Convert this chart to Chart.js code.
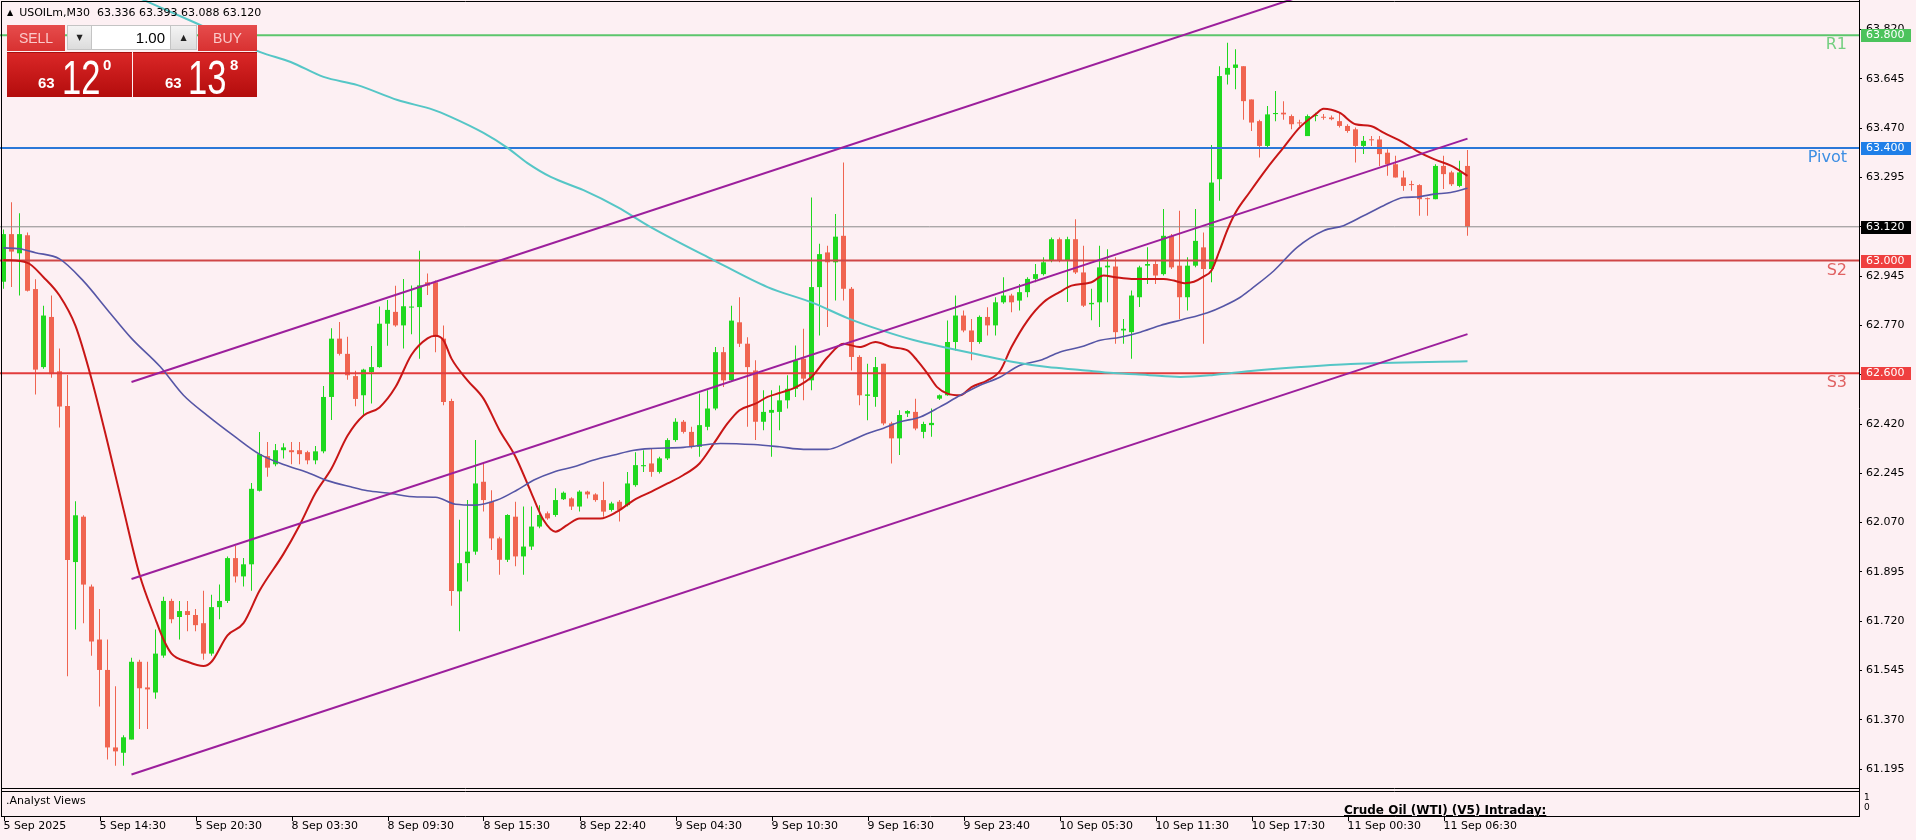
<!DOCTYPE html>
<html>
<head>
<meta charset="utf-8">
<title>USOILm M30</title>
<script src="https://cdn.jsdelivr.net/npm/chart.js@4.4.1/dist/chart.umd.min.js"></script>
<style>
  html, body { margin: 0; padding: 0; background: #fdf0f3; overflow: hidden; }
  #wrap { position: relative; width: 1916px; height: 840px; font-family: "DejaVu Sans", sans-serif; }
  #chart { position: absolute; left: 0; top: 0; }
  #sym { position: absolute; left: 7px; top: 6px; font-size: 11px; line-height: 13px; color: #000; white-space: pre; }
  #sym .tri { font-size: 8px; vertical-align: 1px; margin-right: 6px; }
  .pbtn { position: absolute; top: 25px; height: 26px; background: linear-gradient(#e64c4c, #d83131); color: #fbcaca;
          font: 14px "Liberation Sans", sans-serif; line-height: 26px; text-align: center; }
  #sellBtn { left: 7px; width: 58px; }
  #buyBtn { left: 198px; width: 59px; }
  .arrow { position: absolute; top: 25px; height: 25px; background: linear-gradient(#f4f4f4, #dcdcdc); border: 1px solid #c4c4c4;
           box-sizing: border-box; font-size: 8px; line-height: 23px; text-align: center; color: #222; }
  #dn { left: 67px; width: 25px; }
  #up { left: 170px; width: 27px; }
  #lot { position: absolute; left: 92px; top: 25px; width: 78px; height: 25px; background: #fff; border-top: 1px solid #c4c4c4;
         border-bottom: 1px solid #c4c4c4; box-sizing: border-box; text-align: right; padding-right: 5px;
         font: 15px "Liberation Sans", sans-serif; line-height: 23px; color: #000; }
  .quote { position: absolute; top: 52px; height: 45px; background: linear-gradient(#da2727, #b30c0c); color: #fff;
           border-top: 1px solid #a80f0f; box-sizing: border-box; }
  #qSell { left: 7px; width: 125px; }
  #qBuy { left: 133px; width: 124px; }
  .quote span { position: absolute; white-space: nowrap; }
  .quote .pre { top: 22px; font: bold 15px "Liberation Sans", sans-serif; line-height: 15px; }
  .quote .big { top: 1px; font: 48px "Liberation Sans", sans-serif; line-height: 48px; transform: scaleX(0.72); transform-origin: 0 0; }
  .quote .sup { top: 4px; font: bold 15px "Liberation Sans", sans-serif; line-height: 15px; }
  #sub { position: absolute; left: 2px; top: 792px; width: 1857px; height: 24px; overflow: hidden; font-size: 11px; color: #000; }
  #sub .name { position: absolute; left: 4px; top: 2px; line-height: 13px; }
  #sub .title { position: absolute; left: 1342px; top: 11px; font-weight: bold; font-size: 12px; text-decoration: underline;
                line-height: 14px; white-space: nowrap; }
  .subtick { position: absolute; left: 1864px; font-size: 9px; line-height: 9px; color: #000; }
</style>
</head>
<body>
<div id="wrap">
  <canvas id="chart" width="1916" height="840"></canvas>
  <div id="sym"><span class="tri">▲</span><span id="symText"></span></div>
  <div class="pbtn" id="sellBtn">SELL</div>
  <div class="arrow" id="dn">▼</div>
  <div id="lot">1.00</div>
  <div class="arrow" id="up">▲</div>
  <div class="pbtn" id="buyBtn">BUY</div>
  <div class="quote" id="qSell"><span class="pre" style="left:31px"></span><span class="big" style="left:55px"></span><span class="sup" style="left:96px"></span></div>
  <div class="quote" id="qBuy"><span class="pre" style="left:32px"></span><span class="big" style="left:55px"></span><span class="sup" style="left:97px"></span></div>
  <div id="sub">
    <div class="name">.Analyst Views</div>
    <div class="title">Crude Oil (WTI) (V5) Intraday:</div>
  </div>
  <div class="subtick" style="top:793px">1</div>
  <div class="subtick" style="top:803px">0</div>
</div>
<script>
// M30 bars, index 0 = 5 Sep morning, last = 11 Sep 08:00
const opens = [
  62.925, 63.094, 63.026, 63.090, 62.899, 62.622, 62.800, 62.607, 62.484, 61.930,
  62.091, 61.843, 61.655, 61.547, 61.272, 61.253, 61.300, 61.576, 61.485, 61.467,
  61.598, 61.792, 61.735, 61.756, 61.742, 61.713, 61.605, 61.770, 61.792, 61.944,
  61.879, 61.922, 62.183, 62.306, 62.277, 62.327, 62.327, 62.327, 62.320, 62.291,
  62.323, 62.516, 62.723, 62.669, 62.590, 62.522, 62.604, 62.622, 62.776, 62.818,
  62.770, 62.833, 62.835, 62.923, 62.923, 62.723, 62.502, 61.826, 61.926, 61.967,
  62.215, 62.144, 62.014, 61.938, 62.091, 61.950, 61.985, 62.056, 62.103, 62.097,
  62.153, 62.156, 62.127, 62.180, 62.170, 62.150, 62.115, 62.144, 62.132, 62.203,
  62.270, 62.280, 62.250, 62.298, 62.363, 62.428, 62.392, 62.339, 62.410, 62.475,
  62.675, 62.575, 62.781, 62.705, 62.610, 62.428, 62.460, 62.463, 62.504, 62.545,
  62.652, 62.575, 62.906, 63.029, 62.994, 63.088, 62.900, 62.658, 62.520, 62.516,
  62.634, 62.422, 62.369, 62.457, 62.463, 62.392, 62.416, 62.510, 62.522, 62.711,
  62.805, 62.752, 62.711, 62.800, 62.770, 62.852, 62.876, 62.858, 62.888, 62.935,
  62.952, 62.999, 63.076, 62.999, 63.076, 62.958, 62.845, 62.852, 62.976, 62.979,
  62.752, 62.746, 62.870, 62.982, 62.988, 62.952, 63.088, 62.982, 62.870, 62.982,
  63.047, 62.970, 63.289, 63.660, 63.684, 63.690, 63.572, 63.495, 63.407, 63.520,
  63.525, 63.513, 63.490, 63.442, 63.513, 63.510, 63.508, 63.495, 63.478, 63.466,
  63.407, 63.430, 63.430, 63.383, 63.342, 63.295, 63.270, 63.268, 63.220, 63.218,
  63.336, 63.313, 63.265, 63.336
];
const highs = [
  63.110, 63.207, 63.168, 63.100, 62.934, 62.840, 62.876, 62.688, 62.594, 62.146,
  62.096, 61.850, 61.763, 61.655, 61.489, 61.315, 61.590, 61.583, 61.576, 61.691,
  61.807, 61.800, 61.792, 61.792, 61.763, 61.828, 61.814, 61.850, 61.950, 61.987,
  61.944, 62.211, 62.392, 62.356, 62.349, 62.352, 62.356, 62.356, 62.325, 62.342,
  62.555, 62.760, 62.782, 62.730, 62.609, 62.616, 62.697, 62.837, 62.860, 62.911,
  62.935, 62.912, 63.035, 62.954, 62.929, 62.770, 62.510, 62.080, 62.150, 62.363,
  62.280, 62.185, 62.020, 62.100, 62.144, 62.127, 62.127, 62.132, 62.109, 62.192,
  62.180, 62.160, 62.185, 62.183, 62.174, 62.215, 62.144, 62.150, 62.250, 62.320,
  62.327, 62.333, 62.304, 62.369, 62.440, 62.434, 62.410, 62.528, 62.540, 62.693,
  62.693, 62.840, 62.870, 62.728, 62.646, 62.540, 62.540, 62.557, 62.593, 62.699,
  62.758, 63.224, 63.060, 63.053, 63.165, 63.348, 62.906, 62.664, 62.634, 62.658,
  62.634, 62.428, 62.469, 62.469, 62.510, 62.428, 62.475, 62.525, 62.787, 62.876,
  62.823, 62.793, 62.805, 62.834, 62.870, 62.941, 62.882, 62.917, 62.941, 62.988,
  63.012, 63.082, 63.082, 63.085, 63.147, 63.053, 62.900, 63.053, 63.040, 63.012,
  62.793, 62.894, 62.982, 63.047, 62.999, 63.183, 63.094, 63.177, 63.012, 63.183,
  63.100, 63.410, 63.690, 63.773, 63.750, 63.690, 63.572, 63.500, 63.549, 63.602,
  63.566, 63.519, 63.500, 63.519, 63.525, 63.520, 63.515, 63.525, 63.484, 63.472,
  63.442, 63.442, 63.442, 63.395, 63.372, 63.319, 63.283, 63.271, 63.224, 63.342,
  63.372, 63.319, 63.354, 63.393
];
const lows = [
  62.900, 62.906, 62.876, 62.890, 62.525, 62.616, 62.584, 62.408, 61.525, 61.691,
  61.713, 61.597, 61.417, 61.229, 61.207, 61.207, 61.300, 61.337, 61.337, 61.445,
  61.590, 61.713, 61.655, 61.684, 61.684, 61.583, 61.597, 61.727, 61.785, 61.857,
  61.843, 61.828, 62.180, 62.233, 62.270, 62.298, 62.277, 62.277, 62.277, 62.277,
  62.316, 62.434, 62.663, 62.577, 62.483, 62.447, 62.493, 62.620, 62.698, 62.765,
  62.688, 62.739, 62.652, 62.878, 62.675, 62.487, 61.775, 61.684, 61.861, 61.956,
  62.109, 61.973, 61.885, 61.930, 61.915, 61.885, 61.973, 62.050, 62.080, 62.091,
  62.150, 62.115, 62.109, 62.156, 62.144, 62.091, 62.109, 62.074, 62.127, 62.197,
  62.250, 62.233, 62.244, 62.292, 62.357, 62.386, 62.333, 62.304, 62.398, 62.469,
  62.551, 62.569, 62.693, 62.410, 62.363, 62.398, 62.304, 62.398, 62.475, 62.516,
  62.504, 62.540, 62.734, 62.764, 62.858, 62.858, 62.610, 62.487, 62.433, 62.481,
  62.416, 62.280, 62.310, 62.445, 62.398, 62.369, 62.375, 62.505, 62.520, 62.681,
  62.746, 62.646, 62.705, 62.734, 62.734, 62.847, 62.817, 62.823, 62.870, 62.923,
  62.947, 62.994, 62.994, 62.853, 62.952, 62.835, 62.788, 62.764, 62.852, 62.705,
  62.705, 62.652, 62.835, 62.917, 62.917, 62.947, 62.970, 62.793, 62.823, 62.976,
  62.705, 62.923, 63.212, 63.625, 63.608, 63.500, 63.460, 63.366, 63.400, 63.495,
  63.500, 63.466, 63.478, 63.442, 63.495, 63.500, 63.498, 63.472, 63.454, 63.348,
  63.378, 63.407, 63.336, 63.301, 63.295, 63.248, 63.248, 63.159, 63.159, 63.218,
  63.254, 63.265, 63.260, 63.088
];
const closes = [
  63.094, 63.032, 63.094, 62.893, 62.613, 62.805, 62.597, 62.482, 61.937, 62.096,
  61.850, 61.648, 61.547, 61.272, 61.258, 61.308, 61.576, 61.482, 61.478, 61.605,
  61.792, 61.727, 61.756, 61.742, 61.706, 61.605, 61.770, 61.792, 61.944, 61.879,
  61.922, 62.190, 62.313, 62.265, 62.327, 62.337, 62.320, 62.313, 62.291, 62.323,
  62.516, 62.723, 62.669, 62.593, 62.509, 62.613, 62.622, 62.776, 62.825, 62.770,
  62.838, 62.837, 62.912, 62.911, 62.729, 62.498, 61.827, 61.926, 61.967, 62.209,
  62.150, 62.014, 61.938, 62.097, 61.950, 61.985, 62.056, 62.097, 62.085, 62.150,
  62.176, 62.127, 62.180, 62.170, 62.150, 62.109, 62.138, 62.115, 62.209, 62.274,
  62.274, 62.250, 62.298, 62.363, 62.428, 62.392, 62.339, 62.416, 62.475, 62.675,
  62.575, 62.787, 62.705, 62.622, 62.428, 62.463, 62.470, 62.504, 62.545, 62.646,
  62.581, 62.906, 63.023, 62.994, 63.085, 62.900, 62.658, 62.522, 62.525, 62.622,
  62.422, 62.369, 62.452, 62.466, 62.404, 62.420, 62.424, 62.522, 62.711, 62.805,
  62.752, 62.711, 62.800, 62.770, 62.852, 62.876, 62.852, 62.888, 62.935, 62.952,
  62.994, 63.076, 62.999, 63.076, 62.958, 62.840, 62.850, 62.976, 62.982, 62.746,
  62.758, 62.876, 62.976, 62.988, 62.947, 63.088, 62.976, 62.870, 62.982, 63.070,
  62.970, 63.277, 63.655, 63.684, 63.696, 63.566, 63.490, 63.407, 63.519, 63.524,
  63.519, 63.484, 63.487, 63.513, 63.516, 63.507, 63.502, 63.478, 63.460, 63.407,
  63.425, 63.427, 63.378, 63.342, 63.295, 63.265, 63.268, 63.218, 63.218, 63.336,
  63.307, 63.271, 63.313, 63.120
];

const timeLabels = ['5 Sep 2025', '5 Sep 14:30', '5 Sep 20:30', '8 Sep 03:30', '8 Sep 09:30', '8 Sep 15:30',
  '8 Sep 22:40', '9 Sep 04:30', '9 Sep 10:30', '9 Sep 16:30', '9 Sep 23:40', '10 Sep 05:30',
  '10 Sep 11:30', '10 Sep 17:30', '11 Sep 00:30', '11 Sep 06:30'];
const timeLabelBars = [0, 12, 24, 36, 48, 60, 72, 84, 96, 108, 120, 132, 144, 156, 168, 180];
const priceTicks = [63.820, 63.645, 63.470, 63.295, 63.120, 62.945, 62.770, 62.595,
  62.420, 62.245, 62.070, 61.895, 61.720, 61.545, 61.370, 61.195];

// fast MA (red)
const redMaBars = [0, 3, 5, 7, 9, 11, 13, 15, 17, 19, 20, 21, 23, 25, 26, 28, 30, 32, 35, 37, 39, 41, 43, 45, 47,
  49, 51, 53, 54, 55, 56, 58, 60, 62, 64, 66, 67.5, 69, 70.5, 72, 74.6, 76.7, 78.8, 81, 83, 85, 87, 88.8, 90.5,
  92, 94, 95.5, 97, 99, 101, 103, 105, 107, 109, 111, 113, 114.2, 115.5, 116.7, 118, 119.6, 121, 123, 124.6, 126,
  128, 130, 132, 133.5, 136, 137.5, 139, 141, 143, 145, 146.3, 147.6, 148.8, 150, 151, 152, 153, 154, 155.7, 158,
  160, 162, 164, 165, 167, 169, 170.9, 172.5, 175, 176.7, 178.8, 181, 183];
const redMaValues = [63.002, 62.992, 62.941, 62.876, 62.768, 62.580, 62.355, 62.117, 61.886, 61.727, 61.655, 61.605,
  61.576, 61.561, 61.576, 61.670, 61.713, 61.828, 61.959, 62.060, 62.175, 62.262, 62.378, 62.450, 62.479,
  62.551, 62.666, 62.724, 62.733, 62.717, 62.652, 62.575, 62.510, 62.398, 62.304, 62.174, 62.079, 62.038, 62.062,
  62.085, 62.085, 62.109, 62.150, 62.180, 62.209, 62.239, 62.280, 62.351, 62.422,
  62.469, 62.492, 62.516, 62.530, 62.550, 62.587, 62.657, 62.705, 62.693, 62.711, 62.693, 62.681, 62.646, 62.599,
  62.551, 62.528, 62.522, 62.551, 62.575, 62.610, 62.693,
  62.787, 62.852, 62.888, 62.911, 62.923, 62.947, 62.941, 62.935, 62.935, 62.935, 62.929, 62.920, 62.925, 62.943,
  62.965, 63.035, 63.110, 63.170, 63.240, 63.330,
  63.401, 63.472, 63.519, 63.539, 63.525, 63.484, 63.478, 63.454, 63.419, 63.389, 63.360, 63.336, 63.301];

// medium MA (slate blue)
const blueMaBars = [0, 2, 4, 7, 10, 13, 16, 19.6, 22.5, 25.5, 28.8, 32, 35, 38, 40.5, 43.4, 45.5, 48, 51.7, 54,
  56.5, 59, 61.7, 64.2, 66.3, 68.8, 71.3, 73.8, 76.3, 78.8, 81, 85, 89.6, 93.8, 97, 100, 103, 105.5, 108, 110,
  112, 114.6, 117, 119.6, 122, 124.6, 127, 129.6, 132, 134.6, 137.1, 139.6, 142.1, 144.6, 147.3, 150.5, 152.6,
  154.6, 156, 158.8, 161.7, 165, 167.5, 170, 172.5, 175, 176.7, 178.8, 180.9, 183];
const blueMaValues = [63.045, 63.042, 63.028, 63.006, 62.927, 62.825, 62.724, 62.623, 62.522, 62.450,
  62.378, 62.313, 62.276, 62.248, 62.219, 62.197, 62.183, 62.175, 62.161, 62.160,
  62.135, 62.132, 62.150, 62.186, 62.221, 62.250, 62.268, 62.292, 62.310, 62.327,
  62.333, 62.337, 62.351, 62.347, 62.339, 62.330, 62.330, 62.355, 62.386, 62.405,
  62.427, 62.445, 62.480, 62.522, 62.557, 62.587, 62.628, 62.646, 62.675, 62.693,
  62.717, 62.728, 62.746, 62.770, 62.790, 62.815, 62.840, 62.870, 62.900, 62.964,
  63.047, 63.106, 63.124, 63.159, 63.195, 63.224, 63.226, 63.236, 63.242, 63.257];

// slow MA (cyan)
const cyanMaBars = [16, 18.4, 23.75, 32.1, 35.9, 40, 44.25, 49.25, 53.75, 55.9, 60, 63, 65.5, 68.4, 72.5,
  76.75, 80.9, 88.75, 95.5, 101.25, 105.5, 109.6, 113.75, 118, 122.1, 126.25, 130.5, 134.6, 138.75, 143,
  147.1, 151.25, 155.9, 162.1, 168.4, 183];
const cyanMaValues = [63.944, 63.914, 63.847, 63.740, 63.705, 63.652, 63.623, 63.570, 63.535, 63.510,
  63.453, 63.400, 63.346, 63.297, 63.250, 63.190, 63.119, 63.002, 62.906, 62.849,
  62.796, 62.754, 62.718, 62.690, 62.665, 62.640, 62.622, 62.612, 62.601, 62.594,
  62.587, 62.594, 62.608, 62.622, 62.633, 62.643];

// equidistant channel
const channelBars = [16, 183];
const channelUpper = [62.569, 64.133];
const channelMiddle = [61.870, 63.433];
const channelLower = [61.176, 62.739];

// pivot levels
const levelNames = ['R1', 'Pivot', 'S2', 'S3'];
const levelValues = [63.800, 63.400, 63.000, 62.600];
const bidPrice = 63.120;
const askPrice = 63.138;

// styles
const levelLineColors = ['#5cc66c', '#2a78d8', '#cf4646', '#e23c3c'];
const levelTextColors = ['#74cf80', '#3d8ee3', '#e06262', '#e06262'];
const levelBoxColors = ['#4cc35c', '#1f7fe8', '#ef3f3f', '#ef3f3f'];
const bullColor = '#1fd81f';
const bearColor = '#f06450';
const bgColor = '#fdf0f3';

const xMin = -0.4375, xMax = 231.9375;
const last = closes.length - 1;

// header texts
document.getElementById('symText').textContent =
  'USOILm,M30  ' + [opens[last], highs[last], lows[last], closes[last]].map(v => v.toFixed(3)).join(' ');
function fillQuote(id, price) {
  const s = price.toFixed(3);
  const el = document.getElementById(id);
  el.querySelector('.pre').textContent = s.slice(0, 2);
  el.querySelector('.big').textContent = s.slice(3, 5);
  el.querySelector('.sup').textContent = s.slice(5);
}
fillQuote('qSell', bidPrice);
fillQuote('qBuy', askPrice);

const candleColors = closes.map((c, i) => c >= opens[i] ? bullColor : bearColor);
const pairs = (xs, ys) => xs.map((x, k) => ({x: x, y: ys[k]}));

const lineDefaults = {type: 'line', pointRadius: 0, fill: false};

const datasets = [
  {type: 'bar', label: 'wicks', data: opens.map((o, i) => ({x: i, y: [lows[i], highs[i]]})),
   backgroundColor: candleColors, barThickness: 1, grouped: false, minBarLength: 1, inflateAmount: 0,
   borderWidth: 0, order: 6},
  {type: 'bar', label: 'bodies', data: opens.map((o, i) => ({x: i, y: [o, closes[i]]})),
   backgroundColor: candleColors, barThickness: 5, grouped: false, minBarLength: 1, inflateAmount: 0,
   borderWidth: 0, order: 5},
  Object.assign({}, lineDefaults, {label: 'last', data: [{x: xMin, y: closes[last]}, {x: xMax, y: closes[last]}],
   borderColor: '#8a8a8a', borderWidth: 1, order: 4})
];
levelValues.forEach((v, k) => {
  datasets.push(Object.assign({}, lineDefaults, {label: levelNames[k], data: [{x: xMin, y: v}, {x: xMax, y: v}],
    borderColor: levelLineColors[k], borderWidth: 2, order: 3}));
});
datasets.push(Object.assign({}, lineDefaults, {label: 'MA slow', data: pairs(cyanMaBars, cyanMaValues),
  borderColor: '#55c6c6', borderWidth: 2, tension: 0.4, cubicInterpolationMode: 'monotone', order: 2}));
datasets.push(Object.assign({}, lineDefaults, {label: 'MA mid', data: pairs(blueMaBars, blueMaValues),
  borderColor: '#5656a6', borderWidth: 1.6, tension: 0.4, cubicInterpolationMode: 'monotone', order: 2}));
datasets.push(Object.assign({}, lineDefaults, {label: 'MA fast', data: pairs(redMaBars, redMaValues),
  borderColor: '#c81616', borderWidth: 2, tension: 0.4, cubicInterpolationMode: 'monotone', order: 2}));
[channelUpper, channelMiddle, channelLower].forEach((vals, k) => {
  datasets.push(Object.assign({}, lineDefaults, {label: 'channel ' + k, data: pairs(channelBars, vals),
    borderColor: '#9c1f9c', borderWidth: 2, order: 1}));
});

const mtPlugin = {
  id: 'mtOverlay',
  beforeDraw(chart) {
    const c = chart.ctx;
    c.save();
    c.fillStyle = bgColor;
    c.fillRect(0, 0, chart.width, chart.height);
    c.restore();
  },
  afterDatasetsDraw(chart) {
    const c = chart.ctx, ys = chart.scales.y, area = chart.chartArea;
    c.save();
    c.font = '16px "DejaVu Sans", sans-serif';
    c.textAlign = 'right';
    c.textBaseline = 'alphabetic';
    levelNames.forEach((name, k) => {
      c.fillStyle = levelTextColors[k];
      c.fillText(name, area.right - 12, ys.getPixelForValue(levelValues[k]) + 14);
    });
    c.restore();
  },
  afterDraw(chart) {
    const c = chart.ctx, xs = chart.scales.x, ys = chart.scales.y, area = chart.chartArea;
    const R = area.right, B = area.bottom;
    c.save();
    c.strokeStyle = '#000';
    c.lineWidth = 1;
    c.beginPath();
    c.moveTo(1, 1.5); c.lineTo(R, 1.5);
    c.moveTo(1.5, 1); c.lineTo(1.5, B + 29);
    c.moveTo(R + 0.5, 0); c.lineTo(R + 0.5, B + 29);
    c.moveTo(1, B + 0.5); c.lineTo(R, B + 0.5);
    c.moveTo(1, B + 3.5); c.lineTo(R, B + 3.5);
    c.moveTo(1, B + 28.5); c.lineTo(R + 1, B + 28.5);
    timeLabelBars.forEach(b => {
      const px = Math.round(xs.getPixelForValue(b)) + 0.5;
      c.moveTo(px, B + 29); c.lineTo(px, B + 33);
    });
    c.stroke();

    c.font = '11px "DejaVu Sans", sans-serif';
    c.textBaseline = 'middle';
    c.textAlign = 'left';
    const tag = (v, color) => {
      const py = Math.round(ys.getPixelForValue(v));
      c.fillStyle = color;
      c.fillRect(R + 2, py - 6, 50, 13);
      c.fillStyle = '#fff';
      c.fillText(v.toFixed(3), R + 7, py + 0.5);
    };
    levelValues.forEach((v, k) => tag(v, levelBoxColors[k]));
    tag(closes[last], '#000');
    c.restore();
  }
};

Chart.defaults.font.family = '"DejaVu Sans", sans-serif';
Chart.defaults.font.size = 11;
Chart.defaults.color = '#000';

new Chart(document.getElementById('chart'), {
  type: 'line',
  data: {datasets: datasets},
  options: {
    responsive: false,
    animation: false,
    devicePixelRatio: 1,
    events: [],
    layout: {padding: 0},
    plugins: {legend: {display: false}, tooltip: {enabled: false}},
    scales: {
      x: {
        type: 'linear',
        min: xMin,
        max: xMax,
        offset: false,
        position: 'bottom',
        grid: {display: false, drawTicks: false},
        border: {display: false},
        ticks: {
          autoSkip: false,
          maxRotation: 0,
          minRotation: 0,
          align: 'start',
          padding: 32,
          callback: function(value) {
            const k = timeLabelBars.indexOf(value);
            return k >= 0 ? timeLabels[k] : '';
          }
        },
        afterBuildTicks: function(scale) {
          scale.ticks = timeLabelBars.map(v => ({value: v}));
        },
        afterFit: function(scale) {
          scale.height = 52;
          scale.paddingLeft = 0;
          scale.paddingRight = 0;
        }
      },
      y: {
        type: 'linear',
        position: 'right',
        min: 61.128,
        max: 63.925,
        beginAtZero: false,
        grid: {drawOnChartArea: false, drawTicks: true, tickLength: 3, color: '#000'},
        border: {display: false},
        ticks: {
          padding: 4,
          callback: function(value) { return Number(value).toFixed(3); }
        },
        afterBuildTicks: function(scale) {
          scale.ticks = priceTicks.map(v => ({value: v}));
        },
        afterFit: function(scale) {
          scale.width = 57;
          scale.paddingTop = 0;
          scale.paddingBottom = 0;
        }
      }
    }
  },
  plugins: [mtPlugin]
});
</script>
</body>
</html>
